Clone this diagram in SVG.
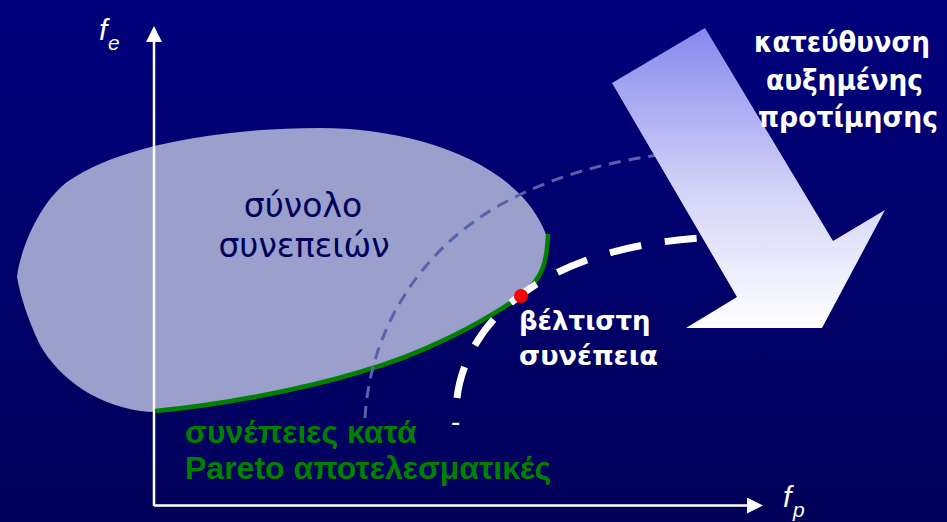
<svg xmlns="http://www.w3.org/2000/svg" width="947" height="522" viewBox="0 0 947 522">
<defs>
<linearGradient id="bg" x1="0" y1="0" x2="0" y2="1">
<stop offset="0" stop-color="#00007c"/>
<stop offset="1" stop-color="#00005a"/>
</linearGradient>
<linearGradient id="arrowGrad" gradientUnits="userSpaceOnUse" x1="0" y1="28" x2="0" y2="328">
<stop offset="0" stop-color="#8888ee"/>
<stop offset="0.55" stop-color="#d4d4f8"/>
<stop offset="1" stop-color="#ffffff"/>
</linearGradient>
<marker id="axisHead" viewBox="0 0 16 16" refX="0" refY="8" markerWidth="16" markerHeight="16" markerUnits="userSpaceOnUse" orient="auto">
<path d="M0,0 L16,8 L0,16 Z" fill="#ffffff"/>
</marker>
</defs>
<style>
.axis{stroke:#ffffff;stroke-width:2.5;fill:none}
.lbl{font-family:"Liberation Sans",Arial,sans-serif;font-style:italic;fill:#ffffff}
.wb{font-family:"DejaVu Sans","Liberation Sans",sans-serif;font-weight:bold;fill:#ffffff}
.green{font-family:"Liberation Sans",Arial,sans-serif;font-weight:bold;fill:#008000;font-size:32px}
.setlbl{font-family:"DejaVu Sans","Liberation Sans",sans-serif;fill:#00005a;font-size:33px}
</style>
<rect x="0" y="0" width="947" height="522" fill="url(#bg)"/>

<g id="feasible-set">
<path d="M17,277 C20,250 40,200 70,180 C110,152 200,128 320,128 C410,128 520,160 547,237 C548,262 543,278 522,295 C480,325 420,355 360,372 C300,390 220,405 150,412 C100,408 60,380 40,345 C28,320 20,295 17,277 Z" fill="#9b9fcc"/>
<text class="setlbl" x="303" y="217" text-anchor="middle">σύνολο</text>
<text class="setlbl" x="304" y="257" text-anchor="middle">συνεπειών</text>
</g>

<g id="axes">
<line class="axis" x1="154" y1="506" x2="154" y2="42" marker-end="url(#axisHead)"/>
<line class="axis" x1="154" y1="505.5" x2="747" y2="505.5" marker-end="url(#axisHead)"/>
<text class="lbl" x="99" y="40" font-size="30">f</text>
<text class="lbl" x="108" y="50" font-size="21">e</text>
<text class="lbl" x="783" y="507" font-size="30">f</text>
<text class="lbl" x="793" y="517" font-size="21">p</text>
</g>

<g id="connectors">
<path id="pareto-front" d="M548,234 C547,262 543,278 522,295 C480,325 420,355 360,372 C300,390 220,405 155,411" fill="none" stroke="#008000" stroke-width="4.5"/>
<path id="indiff-1" d="M365,418 C370,330 420,250 500,205 C560,172 620,158 700,150" fill="none" stroke="#5862aa" stroke-width="3" stroke-dasharray="12 8"/>
<path id="indiff-2" d="M457,398 C465,330 530,250 700,238" fill="none" stroke="#ffffff" stroke-width="7" stroke-dasharray="32 24"/>
</g>

<text x="451" y="431" font-family="Liberation Sans,Arial,sans-serif" font-size="28" fill="#ffffff">-</text>

<g id="optimum">
<circle cx="521" cy="296" r="7" fill="#ff0000"/>
<text class="wb" x="519" y="330" font-size="26">βέλτιστη</text>
<text class="wb" x="519" y="365" font-size="26" textLength="139" lengthAdjust="spacingAndGlyphs">συνέπεια</text>
</g>

<g id="preference-arrow">
<polygon points="612,83 705,28 833,241 885,210 822,328 686,328 737,297" fill="url(#arrowGrad)"/>
<text class="wb" x="754" y="52" font-size="29" textLength="176" lengthAdjust="spacingAndGlyphs">κατεύθυνση</text>
<text class="wb" x="766" y="90" font-size="29" textLength="157" lengthAdjust="spacingAndGlyphs">αυξημένης</text>
<text class="wb" x="758" y="127" font-size="29" textLength="180" lengthAdjust="spacingAndGlyphs">προτίμησης</text>
</g>

<g id="pareto-label">
<text class="green" x="185" y="443">συνέπειες κατά</text>
<text class="green" x="185" y="479">Pareto αποτελεσματικές</text>
</g>
</svg>
